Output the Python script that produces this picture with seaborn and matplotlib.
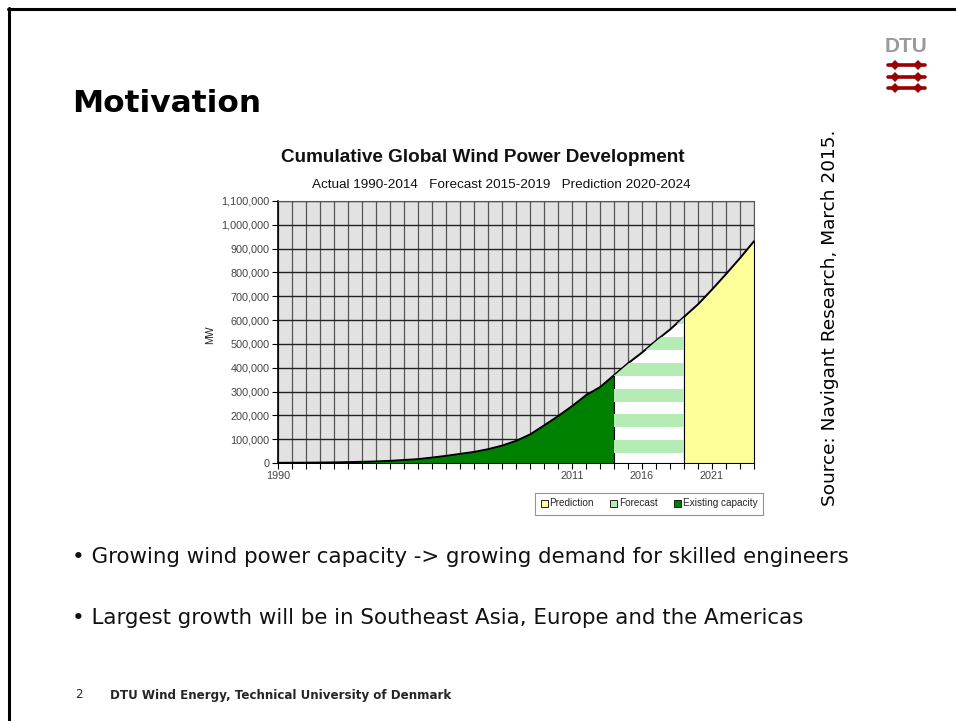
import matplotlib
matplotlib.use("Agg")
import matplotlib.pyplot as plt
import seaborn as sns
import numpy as np
import pandas as pd
from matplotlib.lines import Line2D
from matplotlib.patches import Patch
from matplotlib.ticker import FuncFormatter

# data (cumulative MW)
existing_years = list(range(1990, 2015))
existing_mw = [1900, 2200, 2600, 3000, 3700, 4800, 6100, 7600, 10200, 13600,
               17400, 23900, 31100, 39400, 47600, 59100, 74000, 94000, 121000,
               159000, 198000, 240000, 286000, 320000, 370000]
forecast_years = [2015, 2016, 2017, 2018, 2019]
forecast_mw = [420000, 465000, 515000, 562000, 615000]
prediction_years = [2020, 2021, 2022, 2023, 2024]
prediction_mw = [668000, 730000, 795000, 862000, 933000]

y_ticks = list(range(0, 1100001, 100000))
x_label_years = [1990, 2011, 2016, 2021]
legend_labels = ["Prediction", "Forecast", "Existing capacity"]

title = "Cumulative Global Wind Power Development"
subtitle = "Actual 1990-2014   Forecast 2015-2019   Prediction 2020-2024"
bullets = ["\u2022 Growing wind power capacity -> growing demand for skilled engineers",
           "\u2022 Largest growth will be in Southeast Asia, Europe and the Americas"]

C_EXIST = "#008000"
C_FORE = "#b4ecb4"
C_PRED = "#ffff99"
C_BG = "#e2e2e2"

sns.set_theme(style="white")
plt.rcParams["font.family"] = ["DejaVu Sans"]

W, H = 956, 721
fig = plt.figure(figsize=(W / 100, H / 100), dpi=100)


def fx(x):
    return x / W


def fy(y):
    return 1 - y / H


ax = fig.add_axes([fx(278), fy(463), fx(754) - fx(278), fy(201) - fy(463)])
ax.set_facecolor(C_BG)

df = pd.DataFrame({
    "year": existing_years + forecast_years + prediction_years,
    "mw": existing_mw + forecast_mw + prediction_mw,
})

# areas
ax.fill_between(existing_years, existing_mw, color=C_EXIST, edgecolor="black",
                linewidth=0.8, zorder=3)
fx_years = [existing_years[-1]] + forecast_years
fx_mw = [existing_mw[-1]] + forecast_mw
fore = ax.fill_between(fx_years, fx_mw, color="white", edgecolor="black",
                       linewidth=0.8, zorder=3)
# horizontal stripe pattern inside the forecast area
stripe_period, stripe_width, stripe_start = 108000, 54000, 42000
clip = fore.get_paths()[0]
for lo in np.arange(stripe_start, 1100000, stripe_period):
    band = ax.axhspan(lo, lo + stripe_width, color=C_FORE, lw=0, zorder=3.5)
    band.set_clip_path(clip, ax.transData)
px_years = [forecast_years[-1]] + prediction_years
px_mw = [forecast_mw[-1]] + prediction_mw
ax.fill_between(px_years, px_mw, color=C_PRED, edgecolor="black",
                linewidth=0.8, zorder=3)

sns.lineplot(data=df, x="year", y="mw", color="black", linewidth=1.0, ax=ax,
             zorder=5)

ax.set_xlim(1990, 2024)
ax.set_ylim(0, 1100000)
ax.set_xticks(range(1990, 2025))
ax.set_xticklabels([str(y) if y in x_label_years else "" for y in range(1990, 2025)])
ax.set_yticks(y_ticks)
ax.yaxis.set_major_formatter(FuncFormatter(lambda v, p: f"{int(v):,}"))
ax.tick_params(axis="both", which="major", direction="out", length=4, width=0.8,
               color="black", labelsize=7.8, labelcolor="#444444", pad=2,
               bottom=True, left=True)
for lab in ax.get_xticklabels() + ax.get_yticklabels():
    lab.set_family("Liberation Sans")
ax.set_xlabel("")
ax.set_ylabel("")
ax.grid(True, axis="y", color="#222222", linewidth=1.0, zorder=1)
ax.grid(True, axis="x", color="#555555", linewidth=0.9, zorder=1)
ax.set_axisbelow(True)
for side in ["left", "bottom"]:
    ax.spines[side].set_color("black")
    ax.spines[side].set_linewidth(1.2)
for side in ["top", "right"]:
    ax.spines[side].set_color("#555555")
    ax.spines[side].set_linewidth(0.8)

# chart texts
fig.text(fx(483), fy(157), title, ha="center", va="center", fontsize=13.6,
         fontweight="bold", family="Liberation Sans", color="#111111")
fig.text(fx(501), fy(185), subtitle, ha="center", va="center", fontsize=9.7,
         family="Liberation Sans", color="#111111")
fig.text(fx(210), fy(335), "MW", ha="center", va="center", rotation=90,
         fontsize=7.5, family="Liberation Sans", color="#222222")

handles = [Patch(facecolor=c, edgecolor="black", linewidth=0.6)
           for c in [C_PRED, C_FORE, C_EXIST]]
leg = fig.legend(handles, legend_labels, loc="center", ncol=3,
                 bbox_to_anchor=(fx(649), fy(503.5)),
                 prop={"family": "Liberation Sans", "size": 7.2},
                 handlelength=0.7, handleheight=0.7, handletextpad=0.2,
                 columnspacing=1.6, fancybox=False, frameon=True,
                 borderpad=0.6)
leg.get_frame().set_edgecolor("#777777")
leg.get_frame().set_linewidth(0.8)

# slide texts
fig.text(fx(72), fy(103), "Motivation", ha="left", va="center", fontsize=22.5,
         fontweight="bold", color="black")
fig.text(fx(830), fy(318), "Source: Navigant Research, March 2015.",
         ha="center", va="center", rotation=90, fontsize=13.3, color="black")
fig.text(fx(72), fy(557), bullets[0], ha="left", va="center", fontsize=15.4,
         color="#111111")
fig.text(fx(72), fy(618), bullets[1], ha="left", va="center", fontsize=15.4,
         color="#111111")
fig.text(fx(75), fy(695), "2", ha="left", va="center", fontsize=8.5)
fig.text(fx(110), fy(695), "DTU Wind Energy, Technical University of Denmark",
         ha="left", va="center", fontsize=8.6, fontweight="bold")

# slide frame
fig.add_artist(Line2D([fx(9), fx(9)], [fy(8), 0], transform=fig.transFigure,
                      color="black", linewidth=2.2))
fig.add_artist(Line2D([fx(8), 1], [fy(9), fy(9)], transform=fig.transFigure,
                      color="black", linewidth=2.2))

# DTU logo
fig.text(fx(906), fy(46), "DTU", ha="center", va="center", fontsize=15,
         fontweight="bold", color="#9a9a9a", family="Liberation Sans")
for yy in [65, 77, 88]:
    fig.add_artist(Line2D([fx(888), fx(925)], [fy(yy), fy(yy)],
                          transform=fig.transFigure, color="#990000",
                          linewidth=2.6, solid_capstyle="round"))
    fig.add_artist(Line2D([fx(895), fx(918)], [fy(yy), fy(yy)],
                          transform=fig.transFigure, color="#990000",
                          linestyle="none", marker="D", markersize=5.5,
                          markeredgewidth=0))

fig.savefig("out.png", dpi=100)
